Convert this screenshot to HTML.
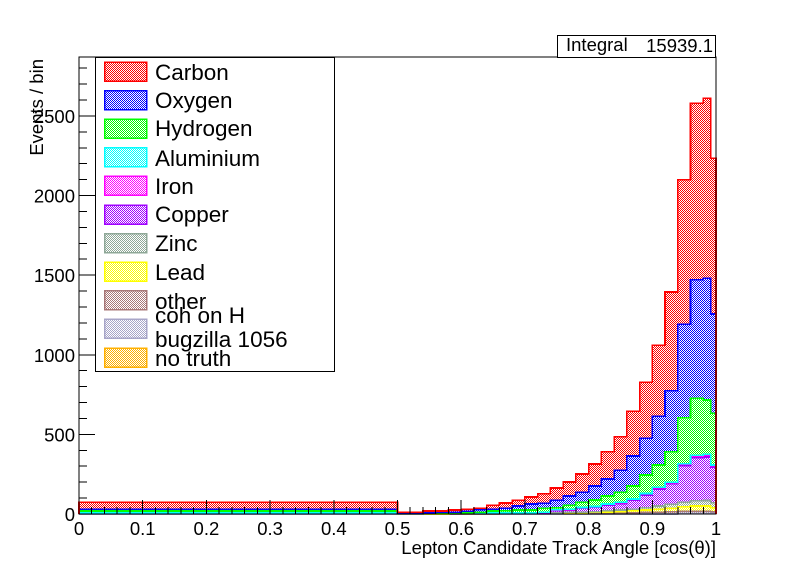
<!DOCTYPE html>
<html><head><meta charset="utf-8"><style>
html,body{margin:0;padding:0;background:#fff;}
svg{display:block;font-family:"Liberation Sans",sans-serif;}
</style></head><body>
<svg id="chart" width="796" height="572" viewBox="0 0 796 572" xmlns="http://www.w3.org/2000/svg" shape-rendering="crispEdges">
<defs id="defs"></defs>
<rect x="0" y="0" width="796" height="572" fill="#fff"/>
<g id="bars"></g>
<g id="axes"></g>
<g id="legend"></g>
<g>
<rect x="557.5" y="35.5" width="158" height="22" fill="#fff" stroke="#000" stroke-width="1"/>
<text x="566" y="51" font-size="18.5">Integral</text>
<text x="713" y="52" font-size="18.5" text-anchor="end">15939.1</text>
</g>
</svg>
<script>
const binEdges=[0,0.5,0.52,0.54,0.56,0.58,0.60,0.62,0.64,0.66,0.68,0.70,0.72,0.74,0.76,0.78,0.80,0.82,0.84,0.86,0.88,0.90,0.92,0.94,0.96,0.98,0.992,1.0];
const speciesNames=["no truth","bugzilla 1056","other","Lead","Zinc","Copper","Iron","Aluminium","Hydrogen","Oxygen","Carbon"];
const noTruth=[0,0,0,0,0,0,0,0,0,0,0,0,0,0,0,0,0,0,0,0,0,0,0,3,4,4,3];
const cohOnH=[0,0,0,0,0,0,0,0,0,0,0,0,0,0,0,0,0,0,0,0,0,0,0,0,0,0,0];
const other=[1,0,0,0,0,0,0,0,0,1,1,1,1,2,2,3,4,5,6,8,10,12,14,14,14,14,12];
const lead=[1,0,0,0,0,1,1,1,1,1,1,2,2,3,4,5,6,7,9,12,15,18,21,28,32,32,25];
const zinc=[1,0,0,1,1,0,0,1,1,1,1,1,2,3,4,4,5,8,10,10,15,20,25,30,34,35,30];
const copper=[4,1,1,1,1,2,2,2,3,2,4,3,4,14,15,24,27,36,41,56,79,107,129,227,268,273,223];
const iron=[1,0,0,0,0,1,1,1,1,1,1,1,1,3,3,4,4,5,5,6,7,8,8,10,12,12,10];
const aluminium=[0,0,0,0,0,0,0,0,0,0,0,0,0,1,1,1,1,2,2,2,3,3,3,4,5,6,5];
const hydrogen=[11,2,2,3,3,2,4,5,13,15,17,17,26,14,26,34,41,50,63,82,116,140,191,289,358,340,325];
const oxygen=[11,2,2,3,5,6,10,16,10,15,25,38,31,46,58,61,88,107,140,188,230,307,382,586,743,764,623];
const carbon=[43,7,7,11,9,13,13,10,26,33,36,44,59,77,88,115,138,170,208,281,352,445,621,907,1110,1131,978];
const xTickLabels=["0","0.1","0.2","0.3","0.4","0.5","0.6","0.7","0.8","0.9","1"];
const yTickLabels=["0","500","1000","1500","2000","2500"];

const series=[noTruth,cohOnH,other,lead,zinc,copper,iron,aluminium,hydrogen,oxygen,carbon];
const colors=["#ffb000","#a8a6c8","#a87878","#ffff00","#8fa898","#a000ff","#ff00ff","#00ffff","#00ff00","#0000ff","#ff0000"];
const X0=79,X1=716,Y0=514,YT=57,YMAX=2870;
const sx=v=>X0+(X1-X0)*v;
const sy=v=>Y0-(Y0-YT)*v/YMAX;
const NS="http://www.w3.org/2000/svg";
function mk(tag,attrs,parent){const e=document.createElementNS(NS,tag);for(const k in attrs)e.setAttribute(k,attrs[k]);parent.appendChild(e);return e;}
const defs=document.getElementById('defs');
colors.forEach((c,i)=>{
  const p=mk('pattern',{id:'pat'+i,patternUnits:'userSpaceOnUse',width:2,height:2},defs);
  mk('rect',{x:0,y:0,width:2,height:2,fill:'#fff'},p);
  mk('rect',{x:0,y:0,width:1,height:1,fill:c},p);
  mk('rect',{x:1,y:1,width:1,height:1,fill:c},p);
});
const bars=document.getElementById('bars');
const nb=binEdges.length-1;
let cum=new Array(nb).fill(0);
const cumTops=[];
series.forEach((s,si)=>{
  const lo=cum.slice();
  const hi=cum.map((v,i)=>v+s[i]);
  cumTops.push(hi);
  for(let i=0;i<nb;i++){
    if(s[i]<=0)continue;
    const r=mk('rect',{x:sx(binEdges[i]),y:sy(hi[i]),width:sx(binEdges[i+1])-sx(binEdges[i]),height:sy(lo[i])-sy(hi[i]),fill:'url(#pat'+si+')'},bars);
    
    
  }
  cum=hi;
});
cumTops.forEach((hi,si)=>{
  let d='M'+sx(binEdges[0])+','+sy(0);
  for(let i=0;i<nb;i++){d+=' L'+sx(binEdges[i])+','+sy(hi[i])+' L'+sx(binEdges[i+1])+','+sy(hi[i]);}
  d+=' L'+sx(binEdges[nb])+','+sy(0);
  const p=mk('path',{d:d,fill:'none',stroke:colors[si],'stroke-width':1.6},bars);
  
  
});
const ax=document.getElementById('axes');
mk('rect',{x:X0,y:YT,width:X1-X0,height:Y0-YT,fill:'none',stroke:'#000','stroke-width':1},ax);
for(let k=0;k<=50;k++){
  const v=k*0.02,x=sx(v);const len=(k%5===0)?14:7;
  mk('line',{x1:x,y1:Y0,x2:x,y2:Y0-len,stroke:'#000','stroke-width':1},ax);
}
xTickLabels.forEach((t,i)=>{
  const e=mk('text',{x:sx(i/10),y:Y0+21,'font-size':18.5,'text-anchor':'middle'},ax);e.textContent=t;
  
  
});
for(let v=0;v<=YMAX;v+=100){
  const y=sy(v);const len=(v%500===0)?16:8;
  mk('line',{x1:X0,y1:y,x2:X0+len,y2:y,stroke:'#000','stroke-width':1},ax);
}
yTickLabels.forEach((t,i)=>{
  const e=mk('text',{x:75,y:sy(i*500)+7,'font-size':18.5,'text-anchor':'end'},ax);e.textContent=t;
  
  
});
const xt=mk('text',{x:716,y:554,'font-size':18.5,'text-anchor':'end'},ax);
xt.textContent='Lepton Candidate Track Angle [cos(θ)]';


const yt=mk('text',{x:0,y:0,'font-size':18.5,'text-anchor':'end',transform:'translate(43,59) rotate(-90)'},ax);
yt.textContent='Events / bin';


const lg=document.getElementById('legend');
mk('rect',{x:95.5,y:57.5,width:239,height:314,fill:'#fff',stroke:'#000','stroke-width':1},lg);
const legendOrder=["Carbon","Oxygen","Hydrogen","Aluminium","Iron","Copper","Zinc","Lead","other","coh on H","no truth"];
const legendColorIdx=[10,9,8,7,6,5,4,3,2,1,0];
const textY=[80,108,136,166,194,222,251,280,309,323,366];
legendOrder.forEach((name,i)=>{
  const y=62+i*28.6;
  const ci=legendColorIdx[i];
  const r=mk('rect',{x:104.5,y:y,width:42,height:19,fill:'url(#pat'+ci+')',stroke:colors[ci],'stroke-width':1.5},lg);
  
  
  const t=mk('text',{x:155,y:textY[i],'font-size':22.5},lg);t.textContent=name;
  
  
});
const bz=mk('text',{x:155,y:347,'font-size':22.5},lg);bz.textContent='bugzilla 1056';


</script>
</body></html>
